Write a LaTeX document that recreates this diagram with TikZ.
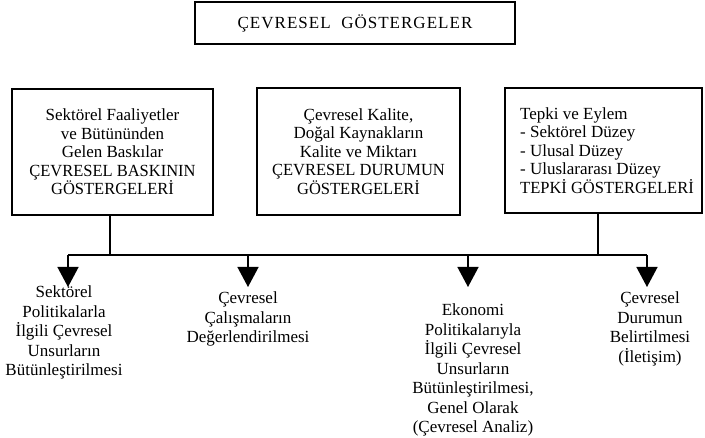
\documentclass[tikz,border=0pt]{standalone}
\usepackage{fontspec}
\setmainfont{Liberation Serif}
\newfontfamily\capsf[FakeStretch=0.97]{Liberation Serif}
\newfontfamily\titlef[LetterSpace=6]{Liberation Serif}
\usetikzlibrary{arrows.meta}
\begin{document}
\begin{tikzpicture}[x=1pt,y=-1pt,
  box/.style={draw, line width=1.4pt, inner sep=0pt, align=center, font=\fontsize{17}{18.5}\selectfont},
  lbl/.style={align=center, inner sep=0pt, font=\fontsize{17}{19.5}\selectfont},
  conn/.style={line width=1.4pt},
  arr/.style={line width=1.4pt, -{Triangle[width=21pt,length=20pt]}}]
\useasboundingbox (0,0) rectangle (705,438);

\node[box, minimum width=320pt, minimum height=42pt] (title) at (355,23)
  {\titlef ÇEVRESEL\ \ GÖSTERGELER};

\node[box, minimum width=201pt, minimum height=126pt] (box1) at (112.5,152)
  {Sektörel Faaliyetler\\ve Bütününden\\Gelen Baskılar\\{\capsf ÇEVRESEL BASKININ}\\{\capsf GÖSTERGELERİ}};
\node[box, minimum width=203pt, minimum height=127pt] (box2) at (358.5,151.5)
  {Çevresel Kalite,\\Doğal Kaynakların\\Kalite ve Miktarı\\{\capsf ÇEVRESEL DURUMUN}\\{\capsf GÖSTERGELERİ}};
\node[box, minimum width=197pt, minimum height=125pt, align=left] (box3) at (603.5,150.5)
  {\hspace*{7pt}Tepki ve Eylem\\\hspace*{7pt}- Sektörel Düzey\\\hspace*{7pt}- Ulusal Düzey\\\hspace*{7pt}- Uluslararası Düzey\\\hspace*{7pt}{\capsf TEPKİ GÖSTERGELERİ}};

\coordinate (hl) at (68,255);
\coordinate (hr) at (647,255);
\coordinate (h2) at (248,255);
\coordinate (h3) at (468,255);
\coordinate (s1) at (110,255);
\coordinate (s3) at (598,255);
\coordinate (t1) at (68,287);
\coordinate (t2) at (248,287);
\coordinate (t3) at (468,287);
\coordinate (t4) at (647,287);

\draw[conn] (box1.south -| s1) -- (s1);
\draw[conn] (box3.south -| s3) -- (s3);
\draw[conn] (hl) -- (hr);
\draw[arr] (hl) -- (t1);
\draw[arr] (h2) -- (t2);
\draw[arr] (h3) -- (t3);
\draw[arr] (hr) -- (t4);

\node[lbl] (l1) at (64,332.5) {Sektörel\\Politikalarla\\İlgili Çevresel\\Unsurların\\Bütünleştirilmesi};
\node[lbl] (l2) at (248,319) {Çevresel\\Çalışmaların\\Değerlendirilmesi};
\node[lbl] (l3) at (473,370) {Ekonomi\\Politikalarıyla\\İlgili Çevresel\\Unsurların\\Bütünleştirilmesi,\\Genel Olarak\\(Çevresel Analiz)};
\node[lbl] (l4) at (650,329) {Çevresel\\Durumun\\Belirtilmesi\\(İletişim)};
\end{tikzpicture}
\end{document}
